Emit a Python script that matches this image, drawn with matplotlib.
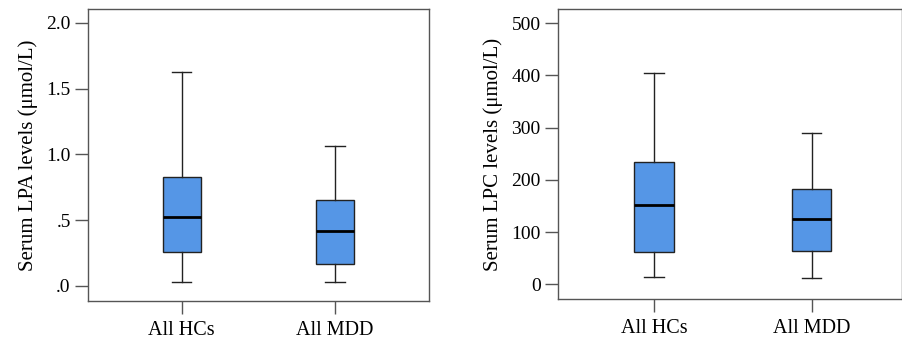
import matplotlib
matplotlib.use("Agg")
import matplotlib.pyplot as plt

# Data (whisker low, Q1, median, Q3, whisker high)
groups = ["All HCs", "All MDD"]
lpa_low = [0.030, 0.033]
lpa_q1 = [0.259, 0.167]
lpa_med = [0.527, 0.420]
lpa_q3 = [0.826, 0.654]
lpa_high = [1.630, 1.067]

lpc_low = [14, 11.5]
lpc_q1 = [62.4, 63.7]
lpc_med = [152.3, 125]
lpc_q3 = [233.4, 181.7]
lpc_high = [403.7, 289.5]

lpa_ticks = [0.0, 0.5, 1.0, 1.5, 2.0]
lpa_ticklabels = [".0", ".5", "1.0", "1.5", "2.0"]
lpc_ticks = [0, 100, 200, 300, 400, 500]

plt.rcParams['font.family'] = ['Liberation Serif', 'DejaVu Serif']
box_color = '#5596e6'
line_color = '#222222'
spine_color = '#555555'


def make_stats(low, q1, med, q3, high):
    return [dict(whislo=low[i], q1=q1[i], med=med[i], q3=q3[i], whishi=high[i], fliers=[])
            for i in range(len(groups))]


def draw(ax, stats, ylim, yticks, yticklabels, ylabel, xlim):
    ax.bxp(stats, positions=[1, 2], widths=0.25, patch_artist=True, showfliers=False,
           boxprops=dict(facecolor=box_color, edgecolor=line_color, linewidth=1.0),
           medianprops=dict(color='black', linewidth=2.0),
           whiskerprops=dict(color=line_color, linewidth=1.0),
           capprops=dict(color=line_color, linewidth=1.0),
           capwidths=0.125)
    ax.set_xlim(*xlim)
    ax.set_ylim(*ylim)
    ax.set_xticks([1, 2])
    ax.set_xticklabels(groups, fontsize=14.5)
    ax.set_yticks(yticks)
    ax.set_yticklabels(yticklabels, fontsize=14)
    ax.set_ylabel(ylabel, fontsize=15, labelpad=6)
    ax.tick_params(axis='both', direction='out', length=9.5, width=1.0, color=spine_color, pad=3)
    ax.tick_params(axis='x', pad=5)
    for s in ax.spines.values():
        s.set_color(spine_color)
        s.set_linewidth(1.0)


fig = plt.figure(figsize=(9.03, 3.42), dpi=100)
ax1 = fig.add_axes([0.0975, 0.1199, 0.3776, 0.8538])
ax2 = fig.add_axes([0.618, 0.1257, 0.381, 0.848])

draw(ax1, make_stats(lpa_low, lpa_q1, lpa_med, lpa_q3, lpa_high), (-0.114, 2.106),
     lpa_ticks, lpa_ticklabels, "Serum LPA levels (\u03bcmol/L)", (0.389, 2.613))
draw(ax2, make_stats(lpc_low, lpc_q1, lpc_med, lpc_q3, lpc_high), (-28, 527),
     lpc_ticks, [str(t) for t in lpc_ticks], "Serum LPC levels (\u03bcmol/L)", (0.39, 2.575))

fig.savefig("out.png", dpi=100)
